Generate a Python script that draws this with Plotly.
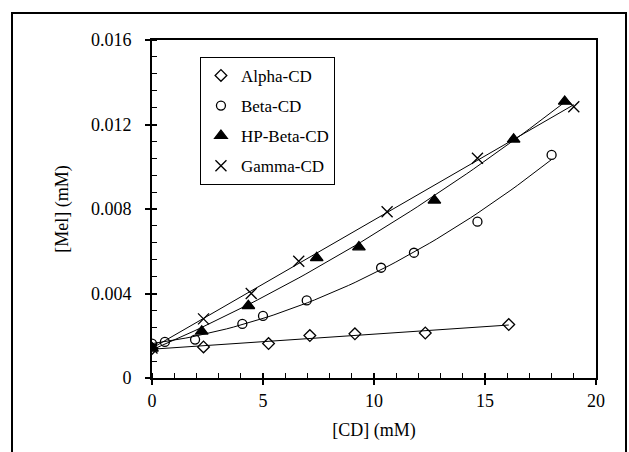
import numpy as np
import plotly.graph_objects as go

# ---- data ----
alpha_x = [0.0, 2.32, 5.25, 7.11, 9.14, 12.31, 16.07]
alpha_y = [0.00140, 0.00147, 0.00163, 0.00201, 0.00209, 0.00213, 0.00253]

beta_x = [0.0, 0.58, 1.94, 4.07, 5.0, 6.97, 10.32, 11.8, 14.66, 18.0]
beta_y = [0.00163, 0.00171, 0.00182, 0.00256, 0.00294, 0.00367, 0.00522, 0.00593, 0.0074, 0.01056]

hp_x = [0.0, 2.24, 4.34, 7.42, 9.32, 12.72, 16.29, 18.59]
hp_y = [0.00140, 0.00221, 0.00342, 0.00569, 0.0062, 0.00841, 0.0113, 0.01309]

gamma_x = [0.0, 2.32, 4.47, 6.61, 10.59, 14.66, 19.0]
gamma_y = [0.00142, 0.0028, 0.0040, 0.00553, 0.00787, 0.0104, 0.01284]

names = ["Alpha-CD", "Beta-CD", "HP-Beta-CD", "Gamma-CD"]
symbols = ["diamond-open", "circle-open", "triangle-up", "x-thin-open"]
sizes = [9, 9, 11, 11]
fit_degree = [1, 2, 2, 1]

series = [(alpha_x, alpha_y), (beta_x, beta_y), (hp_x, hp_y), (gamma_x, gamma_y)]

FONT = "Liberation Serif"
fig = go.Figure()

# trend lines (fits of the data)
for (xs, ys), deg in zip(series, fit_degree):
    c = np.polyfit(xs, ys, deg)
    xx = np.linspace(0, max(xs), 60)
    fig.add_trace(go.Scatter(x=xx, y=np.polyval(c, xx), mode="lines",
                             line=dict(color="black", width=1), showlegend=False,
                             hoverinfo="skip"))

for (xs, ys), nm, sym, sz in zip(series, names, symbols, sizes):
    fig.add_trace(go.Scatter(x=xs, y=ys, mode="markers", name=nm, legendgroup=nm,
                             marker=dict(symbol=sym, size=sz, color="black",
                                         line=dict(color="black", width=1.3))))

# helper axes to make major ticks cross the axis lines
fig.add_trace(go.Scatter(x=[None], y=[None], xaxis="x2", yaxis="y2", showlegend=False))

axis_common = dict(showgrid=False, zeroline=False, showline=True, linecolor="black",
                   linewidth=2, mirror=True, ticks="outside", ticklen=5, tickwidth=1.5,
                   tickcolor="black", tickfont=dict(family=FONT, size=18, color="black"))

fig.update_layout(
    width=629, height=452,
    paper_bgcolor="white", plot_bgcolor="white",
    margin=dict(l=152, r=33, t=40, b=74),
    font=dict(family=FONT, color="black"),
    xaxis=dict(range=[0, 20], tickvals=[0, 5, 10, 15, 20],
               minor=dict(dtick=1, ticks="inside", ticklen=5, tickwidth=1.2, tickcolor="black"),
               title=dict(text="[CD] (mM)", font=dict(family=FONT, size=18), standoff=14),
               ticklabelstandoff=0,
               **axis_common),
    yaxis=dict(range=[0, 0.016], tickvals=[0, 0.004, 0.008, 0.012, 0.016],
               ticktext=["0", "0.004", "0.008", "0.012", "0.016"],
               minor=dict(dtick=0.0008, ticks="inside", ticklen=5, tickwidth=1.2, tickcolor="black"),
               title=dict(text="[Mel] (mM)", font=dict(family=FONT, size=18), standoff=18),
               ticklabelstandoff=10,
               **axis_common),
    xaxis2=dict(overlaying="x", matches="x", range=[0, 20], tickvals=[0, 5, 10, 15, 20],
                ticks="inside", ticklen=5, tickwidth=1.5, tickcolor="black",
                showticklabels=False, showgrid=False, zeroline=False, showline=False,
                anchor="y2", side="bottom"),
    yaxis2=dict(overlaying="y", range=[0, 0.016], tickvals=[0, 0.004, 0.008, 0.012, 0.016],
                ticks="inside", ticklen=5, tickwidth=1.5, tickcolor="black",
                showticklabels=False, showgrid=False, zeroline=False, showline=False,
                anchor="x2", side="left"),
    legend=dict(x=0.108, y=0.95, xanchor="left", yanchor="top",
                bordercolor="black", borderwidth=1, bgcolor="white",
                font=dict(family=FONT, size=17, color="black"),
                tracegroupgap=5, itemwidth=30),
    showlegend=True,
)

# outer frame
fig.add_shape(type="rect", xref="paper", yref="paper",
              x0=(12 - 152) / 444, x1=(626 - 152) / 444,
              y0=(378 - 470) / 338, y1=(378 - 13) / 338,
              line=dict(color="black", width=2), fillcolor="rgba(0,0,0,0)", layer="below")

fig.write_html("out.html")
